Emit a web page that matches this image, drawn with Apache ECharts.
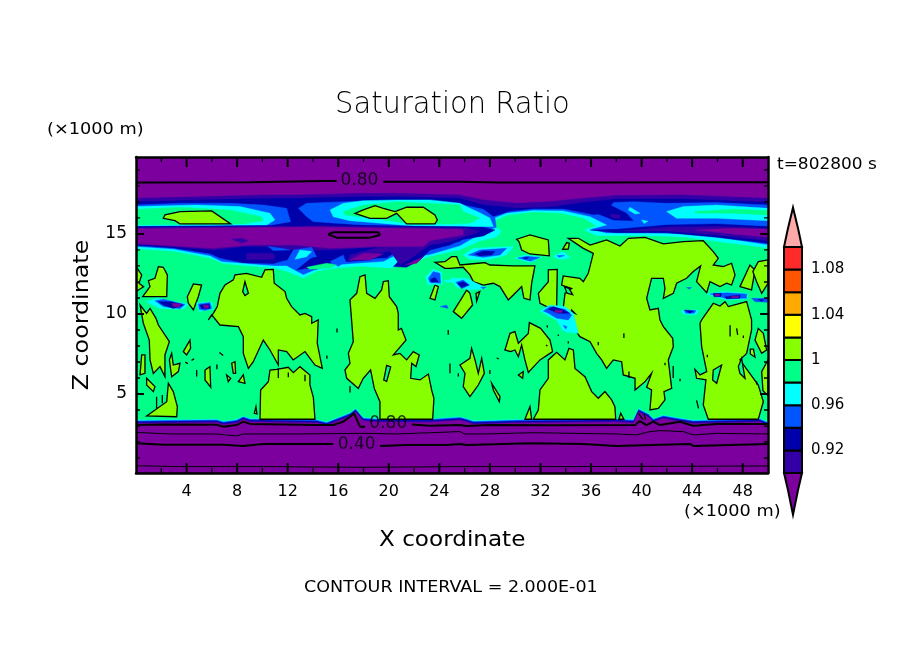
<!DOCTYPE html>
<html>
<head>
<meta charset="utf-8">
<script src="https://cdn.jsdelivr.net/npm/echarts@6/dist/echarts.min.js"></script>
<style>html,body{margin:0;background:#fff}#chart{width:904px;height:654px}</style>
</head>
<body>
<div id="chart"></div>
<script>
'use strict'

// all outlines are [x km, z km, x km, z km, ...]
const xTicksMajor = [4, 8, 12, 16, 20, 24, 28, 32, 36, 40, 44, 48];
const xTicksMinor = [2, 6, 10, 14, 18, 22, 26, 30, 34, 38, 42, 46];
const zTicksMajor = [5, 10, 15];
const zTicksMinor = [1, 2, 3, 4, 6, 7, 8, 9, 11, 12, 13, 14, 16, 17, 18, 19];

const barEdges = [0.90, 0.92, 0.94, 0.96, 0.98, 1.00, 1.02, 1.04, 1.06, 1.08, 1.10];
const barColors = ['#3300a8', '#0000aa', '#0055ff', '#00ffff', '#00ff88', '#88ff00', '#ffff00', '#ffaa00', '#ff5500', '#ff2a2a'];
const barLabels = [0.92, 0.96, 1, 1.04, 1.08];
const arrowHigh = [0, 1.10, 0.2, 1.115, 0.5, 1.135, 0.8, 1.115, 1, 1.10];
const arrowLow = [0, 0.90, 0.22, 0.885, 0.5, 0.863, 0.78, 0.885, 1, 0.90];

const PURPLE = '#7b009e', INDIGO = barColors[0], DARK = barColors[1], BLUE = barColors[2],
    CYAN = barColors[3], GREEN = barColors[4], LIME = barColors[5];

// lower edge of the moist layer, purple side
const floorEdge = [0,3.17, 2.16,3.19, 6.38,3.23, 6.91,3.1, 7.96,3.21, 8.49,3.42, 9.02,3.27, 14.29,3.21, 15.08,3.06, 16.14,3.38, 16.93,3.63, 17.38,3.9, 17.98,3.33, 19.04,3.27, 23.26,3.25, 25.63,3.38, 26.16,3.27, 26.69,3.13, 30.11,3.21, 38.03,3.27, 39.34,3.21, 39.74,3.9, 40.53,3.58, 40.93,3.27, 41.72,3.48, 42.77,3.33, 44.09,3.17, 49.36,3.27, 50,3.06];

const indigoTop = [0,17.23, 5.06,17.33, 10.07,17.44, 12.71,17.44, 17.98,17.54, 20.62,17.54, 25.6,17.44, 27.48,17.13, 30.11,16.92, 32.75,17.02, 35.39,17.23, 38.03,17.4, 43.3,17.44, 50,17.23];
const darkTop = [0,17.02, 5.06,17.13, 10.07,17.23, 12.71,17.23, 17.98,17.33, 20.62,17.33, 25.6,17.23, 27.48,16.81, 30.11,16.6, 32.75,16.67, 35.39,16.96, 38.03,17.19, 43.3,17.19, 50,16.98];
const blueTop = [0,14.27, 2.95,14.1, 5.85,13.75, 6.64,13.48, 8.49,13.17, 10.86,13.12, 11.92,13.37, 11.92,14.1, 12.58,14.21, 13.9,14.1, 14.29,13.58, 15.61,13.58, 16.4,13.69, 16.67,13.38, 19.83,13.48, 20.62,13.9, 21.54,13.96, 22.47,14.0, 25.63,14.52, 26.42,15.15, 28.0,15.42, 28.27,16.08, 29.59,16.4, 31.43,16.56, 33.8,16.56, 36.18,16.19, 37.23,16.29, 37.76,16.96, 39.34,17.02, 41.98,16.92, 45.94,16.96, 50,16.81];
const cyanTop = [0,14.2, 2.95,14.04, 5.85,13.62, 6.78,13.27, 8.49,13.15, 10.86,13.0, 11.92,13.0, 13.24,12.44, 14.29,12.79, 15.87,13.06, 17.72,13.17, 19.57,13.27, 20.62,13.69, 21.41,13.9, 21.7,13.5, 23.26,13.7, 25.63,14.25, 26.69,14.73, 27.48,15.15, 28.4,15.35, 28.0,15.88, 29.32,16.29, 31.43,16.46, 33.8,16.44, 35.92,16.08, 37.23,15.56, 35.92,15.29, 37.23,15.04, 40.66,15.04, 43.3,15.0, 45.94,14.79, 50,14.31];
const greenTop = [0,14.06, 2.95,13.9, 5.85,13.48, 6.91,13.13, 10.86,12.85, 11.92,12.65, 13.24,12.23, 14.29,12.65, 15.87,12.85, 17.72,12.96, 20.09,12.85, 21.41,13.06, 23.26,13.58, 25.63,14.0, 26.42,14.27, 27.08,14.52, 28.53,14.79, 28.93,15.15, 28.14,15.71, 29.32,16.15, 31.43,16.35, 33.54,16.29, 35.39,15.98, 36.36,15.52, 35.39,15.25, 36.44,14.88, 40.66,14.88, 43.3,14.79, 45.94,14.52, 50,14.1];

const blueJets = [
    [0,16.81, 3.48,16.92, 7.44,16.92, 10.07,16.81, 11.92,16.6, 12.23,15.77, 10.07,15.46, 0,15.46],
    [12.84,16.6, 13.5,16.92, 16.4,17.02, 19.3,17.08, 25.63,16.85, 27.48,16.55, 28.4,16.0, 28.5,15.4, 17.98,15.56, 14.03,15.77, 13.5,16.08]
];
const cyanJets = [
    [0,16.71, 4.8,16.81, 8.23,16.71, 10.6,16.29, 10.99,15.88, 10.34,15.56, 0,15.5],
    [15.35,16.5, 16.4,16.92, 17.98,17.08, 20.62,17.13, 23.26,17.13, 25.63,16.92, 26.42,16.6, 27.0,16.4, 28,16.0, 28.27,15.46, 25.63,15.42, 21.94,15.5, 16.93,15.83, 15.61,16.08],
    [41.98,16.4, 43.3,16.71, 45.94,16.81, 50,16.6, 50,15.83, 45.94,15.98, 42.77,15.98]
];
const greenJets = [
    [0,16.54, 3.48,16.67, 7.44,16.5, 9.94,16.08, 10.07,15.83, 8.49,15.63, 0,15.56],
    [16.4,16.4, 17.98,16.81, 20.62,17.02, 23.26,16.92, 25.63,16.81, 25.9,16.4, 27.2,16.0, 26.42,15.67, 24.84,15.63, 21.94,15.63, 18.51,15.98, 16.53,16.19],
    [44.22,16.4, 47.25,16.54, 50,16.46, 50,16.19, 47.25,16.29, 44.22,16.29]
];

// the dry layer near 15 km
const bandDark = [
    [0,15.46, 14.29,15.54, 25.63,15.46, 27.48,15.42, 28.4,15.25, 27.48,14.88, 25.63,14.63, 24.84,14.31, 23.26,14.0, 22.47,13.38, 21.41,12.92, 20.36,12.96, 21.28,13.69, 20.36,13.9, 18.51,13.38, 16.67,13.27, 16.4,13.58, 15.08,13.06, 12.71,12.75, 13.5,13.27, 14.03,13.58, 12.84,13.58, 11.92,13.37, 8.62,13.27, 7.44,13.58, 5.85,13.9, 2.95,14.17, 0,14.33],
    [35.92,15.25, 38.03,15.29, 41.98,15.56, 45.94,15.63, 50,15.46, 50,14.42, 45.94,14.79, 41.98,15.08, 38.03,15.08]
];
const bandIndigo = [
    [0,15.4, 14.29,15.5, 25.63,15.37, 26.16,15.35, 27.21,15.15, 25.89,14.79, 24.84,14.52, 23.26,14.31, 21.94,13.58, 20.89,13.06, 20.09,13.94, 17.98,13.58, 16.8,13.27, 16.93,13.69, 19.43,14.21, 15.35,14.0, 12.18,14.0, 10.07,14.21, 8.49,14.21, 6.12,14.0, 2.95,14.21, 0,14.35],
    [38.55,15.19, 41.98,15.42, 45.94,15.46, 50,15.35, 50,14.58, 45.94,14.94, 41.98,15.19],
    [8.75,13.79, 10.86,13.79, 11.0,13.4, 8.75,13.4]
];
const bandPurple = [
    [0,15.33, 14.29,15.44, 25.63,15.29, 25.89,15.25, 25.89,14.94, 24.84,14.79, 23.26,14.58, 22.73,14.21, 19.3,14.21, 15.35,14.1, 12.71,14.31, 9.02,14.31, 6.12,14.1, 2.95,14.25, 0,14.4],
    [44.35,15.25, 47.25,15.35, 50,15.29, 50,14.79, 47.25,15.0],
    [16.93,13.38, 17.98,13.79, 19.57,13.75, 18.51,13.38],
    [21.28,13.06, 22.73,13.58, 22.2,13.17]
];
const streakIndigo = [
    [7.57,14.67, 8.36,14.73, 8.89,14.58, 8.36,14.42],
    [13.24,12.85, 15.08,13.06, 14.29,12.79]
];
const streakBlue = [
    [10.47,14.21, 11.52,14.1, 12.18,14.0, 10.86,13.96],
    [11.92,13.27, 12.45,14.0, 13.9,14.17, 14.29,13.58, 13.5,13.48, 12.71,12.96],
    [15.35,13.27, 16.4,13.69, 16.53,13.27, 16.0,12.96]
];
const streakCyan = [[12.58,13.42, 12.97,14.0, 13.9,13.9, 13.5,13.58]];
const streakGreen = [[13.5,12.92, 15.08,13.17, 15.87,13.06, 15.35,12.85, 13.76,12.79]];

// saturated cloud, ratio above 1
const limeClouds = [
    [2.16,15.98, 2.29,16.19, 3.48,16.40, 5.99,16.44, 7.49,15.63, 3.48,15.63, 3.08,15.83],
    [17.33,16.29, 17.98,16.5, 18.91,16.77, 19.57,16.6, 20.49,16.4, 21.41,16.67, 22.73,16.67, 23.65,16.19, 23.84,15.87, 23.65,15.63, 21.41,15.63, 20.62,16.29, 19.83,15.98, 18.51,15.98],
    [0,12.96, 0.45,12.44, 0.24,11.92, 0.6,11.7, 0,11.4],
    [1.77,12.96, 2.16,12.92, 2.48,12.44, 2.43,11.08, 0.53,11.08, 1.11,11.71, 0.98,12.08, 1.5,12.23],
    [4.06,11.08, 4.54,11.88, 5.19,11.81, 4.93,11.08, 4.54,10.25, 4.14,10.67],
    [5.72,9.63, 6.12,10.04, 6.43,10.46, 6.64,11.29, 7.04,11.81, 7.70,12.13, 7.83,12.44, 8.75,12.54, 9.94,12.29, 10.2,12.75, 10.86,12.79, 10.94,11.92, 11.79,11.4, 11.92,10.98, 12.31,10.46, 12.97,9.94, 13.37,10.04, 13.9,9.83, 13.9,9.42, 14.42,9.63, 14.34,8.17, 14.74,6.6, 14.16,6.81, 13.37,7.65, 12.44,7.13, 11.92,7.65, 11.26,7.75, 11.26,6.81, 10.6,7.75, 10.07,8.37, 9.28,7.02, 8.89,6.6, 8.49,7.54, 8.49,8.58, 8.1,9.21, 6.64,9.31, 5.99,9.94],
    [0.32,10.56, 0.84,10.04, 1.11,10.35, 1.58,9.73, 1.77,9.31, 2.64,8.27, 2.29,7.44, 2.29,6.08, 1.9,6.71, 1.37,6.29, 1.11,7.13, 1.05,8.37, 0.58,9.42],
    [0.84,3.63, 2.43,4.52, 2.56,5.67, 2.95,5.15, 3.27,4.21, 3.22,3.58],
    [0.32,6.19, 0.45,7.44, 0.71,7.44, 0.71,6.29],
    [0.84,5.98, 1.5,5.46, 1.37,5.15, 0.84,5.56],
    [2.64,7.13, 2.82,7.54, 2.95,6.81, 3.48,6.92, 3.35,6.4, 2.82,6.08],
    [3.74,7.65, 4.27,8.37, 4.32,7.85, 4.01,7.44],
    [5.46,6.5, 5.85,6.71, 5.91,5.42, 5.46,5.88],
    [7.57,6.92, 7.83,7.02, 7.88,6.29, 7.7,6.29],
    [8.1,5.77, 8.49,6.19, 8.62,5.67],
    [7.17,6.19, 7.49,5.98, 7.3,5.77],
    [9.36,3.79, 9.49,4.21, 9.57,3.75],
    [9.81,3.42, 9.86,5.25, 10.47,5.77, 10.6,6.5, 11.13,6.54, 12.05,6.67, 12.45,6.33, 12.97,6.71, 13.76,6.19, 13.76,5.56, 14.03,4.79, 14.16,3.42],
    [16.93,10.88, 17.46,11.29, 17.72,12.33, 18.12,12.44, 18.25,11.29, 18.91,10.98, 19.43,11.5, 19.57,12.02, 19.96,12.08, 20.04,11.08, 20.62,10.46, 20.75,10.04, 20.75,9.0, 21.0,9.1, 21.36,8.37, 20.36,7.44, 20.88,7.54, 21.41,7.13, 21.94,7.65, 22.41,7.44, 22.15,6.71, 21.81,6.92, 21.73,5.98, 22.47,5.88, 23.13,6.25, 23.39,5.25, 23.57,4.73, 23.47,3.42, 19.3,3.42, 19.3,4.52, 18.85,5.35, 18.56,6.5, 17.98,5.98, 17.59,5.35, 16.67,5.98, 16.53,6.5, 16.93,6.92, 16.8,7.54, 17.19,8.27],
    [23.26,10.98, 23.65,11.81, 23.92,11.71, 23.65,10.88],
    [23.65,13.23, 24.44,13.27, 24.97,13.58, 25.37,13.58, 25.63,13.06, 27.08,13.17, 27.61,13.21, 28.0,13.06, 29.85,13.0, 31.56,13.0, 31.3,11.92, 31.17,10.88, 30.69,10.98, 30.51,11.71, 29.85,11.19, 29.45,10.88, 28.8,11.71, 28.27,11.92, 27.48,11.81, 26.69,12.02, 26.42,12.44, 25.89,12.92, 24.84,12.85, 24.44,12.85],
    [30.11,14.67, 31.17,14.94, 32.62,14.63, 32.7,13.63, 31.17,13.75, 30.51,14.0, 30.3,14.52],
    [33.75,14.04, 34.07,14.46, 34.28,14.42, 34.2,14.06],
    [34.2,14.73, 35.0,14.73, 35.92,14.31, 37.23,14.63, 38.29,14.25, 38.95,14.73, 40.27,14.79, 41.72,14.38, 43.3,14.52, 44.88,14.58, 45.67,13.9, 46.07,13.48, 45.67,13.06, 46.46,12.96, 47.12,13.17, 47.39,12.44, 47.12,11.81, 46.73,11.92, 46.2,11.71, 45.41,12.02, 45.15,11.33, 44.35,12.02, 44.67,13.0, 44.09,12.65, 43.56,12.23, 42.77,11.92, 42.51,11.29, 41.72,10.98, 41.85,11.6, 41.72,12.23, 40.79,12.23, 40.4,10.98, 40.66,10.25, 41.32,10.35, 41.45,9.63, 41.72,9.21, 42.46,8.48, 42.51,7.96, 42.11,7.13, 42.38,5.35, 41.77,5.15, 41.85,4.63, 41.32,4.1, 40.66,4.0, 40.79,5.25, 40.4,5.42, 40.79,6.29, 40.27,5.77, 39.48,5.25, 39.48,5.98, 38.55,6.19, 38.42,7.02, 37.76,7.13, 37.23,6.6, 36.84,7.13, 36.44,7.54, 35.92,8.27, 35.12,8.58, 34.73,9.0, 34.47,9.42, 34.47,10.25, 34.73,10.04, 33.8,10.35, 33.94,11.29, 34.47,11.6, 33.67,11.81, 33.8,12.38, 35.12,12.23, 35.39,12.02, 35.78,12.54, 36.18,13.79, 35.39,14.1],
    [31.83,11.29, 32.62,12.02, 32.62,12.75, 33.33,12.79, 33.28,10.46, 32.49,10.46, 31.96,10.67],
    [25.76,10.98, 26.16,11.5, 26.42,11.29, 26.63,10.56, 25.76,9.73, 25.1,10.15],
    [26.9,11.29, 27.2,11.4, 26.95,10.8],
    [44.75,9.63, 45.67,10.67, 46.2,10.5, 46.6,10.77, 46.86,10.46, 48.31,10.77, 48.7,9.63, 48.7,9.0, 48.31,7.54, 47.78,7.13, 49.23,5.56, 49.63,4.52, 49.23,3.42, 45.28,3.42, 44.88,4.31, 45.09,5.88, 44.35,5.98, 44.22,6.54, 44.62,6.19, 45.15,6.4, 44.75,7.96, 44.62,9.42],
    [47.78,11.71, 48.57,13.06, 48.97,12.75, 48.7,11.5],
    [48.8,12.65, 49.23,13.27, 50,13.38, 50,11.92, 49.5,11.29, 49.1,12.02],
    [49.23,9.1, 49.63,8.79, 49.89,7.75, 49.5,7.54, 48.97,8.37],
    [48.6,7.8, 48.85,7.8, 48.97,7.3, 48.6,7.5],
    [50,7.13, 50,4.9, 49.6,5.2, 49.5,6.4],
    [25.63,6.81, 26.42,7.23, 26.55,7.85, 26.82,7.13, 27.08,6.29, 27.35,7.23, 27.56,6.29, 27.08,5.56, 26.42,4.83, 25.89,5.46, 26.03,6.29],
    [28.14,5.67, 28.8,4.83, 28.74,4.52, 28.27,5.25],
    [29.19,7.75, 29.59,8.79, 29.98,8.9, 30.25,8.17, 31.04,8.79, 31.12,9.46, 32.01,9.1, 32.75,8.37, 32.96,7.65, 31.96,7.13, 31.04,6.35, 30.77,7.13, 30.51,8.06, 30.25,7.33, 29.98,7.75, 29.64,7.65],
    [30.25,6.19, 30.64,6.4, 30.59,5.98],
    [31.43,3.42, 31.83,4.0, 31.96,5.25, 32.62,5.98, 32.62,7.13, 33.28,7.6, 33.94,7.13, 34.25,7.85, 34.6,7.75, 34.73,6.6, 35.52,6.08, 36.05,5.15, 36.57,4.73, 37.1,5.15, 37.63,4.63, 37.89,4.21, 37.95,3.42],
    [30.77,3.42, 31.17,4.21, 31.3,3.42],
    [38.2,3.42, 38.35,3.8, 38.6,3.42]
];
const limeHoles = [
    [8.62,12.02, 8.89,11.29, 8.62,11.15, 8.44,11.4],
    [19.6,5.87, 19.83,6.79, 20.15,6.69, 19.83,5.79],
    [33.9,11.7, 34.25,11.6, 34.55,11.2, 34.1,11.3],
    [45.67,6.5, 46.33,6.81, 45.94,5.67, 45.62,5.88],
    [47.65,6.71, 47.91,7.23, 48.18,5.98, 47.78,6.29]
];
// tiny closed contours, too small to fill
const limeSpecks = [
    [15.9,9.1, 15.9,8.85], [24.7,9.0, 24.7,8.7], [16.93,5.5, 16.93,5.1], [15.1,7.4, 15.1,7.2], [11.26,6.6, 11.26,6.0],
    [4.8,6.5, 4.8,6.1], [6.4,6.85, 6.4,6.55], [12.05,6.35, 12.05,6.05], [13.37,6.2, 13.37,5.8], [1.63,4.83, 1.63,4.1],
    [2.08,4.94, 2.08,4.42], [3.9,7.0, 4.1,6.9], [4.4,7.1, 4.6,7.2], [6.6,7.6, 6.9,7.4], [24.84,6.9, 24.84,6.3],
    [32.54,9.3, 32.54,9.15], [33.41,8.72, 33.41,8.62], [33.8,9.0, 33.9,8.9], [36.57,8.25, 36.57,8.05], [38.6,8.8, 38.6,8.5],
    [34.2,8.3, 34.2,8.15], [32.44,8.05, 32.55,8.0], [28.53,7.25, 28.7,7.2], [28.0,6.5, 28.0,6.25], [25.5,6.3, 25.5,6.1],
    [42.5,6.75, 42.5,6.0], [39.0,6.4, 39.0,6.0], [43.04,5.95, 43.04,5.8], [41.85,6.95, 41.85,6.8], [44.35,4.6, 44.5,4.1],
    [47.0,9.3, 47.0,8.6], [47.52,9.1, 47.6,8.7], [48.05,8.65, 48.05,8.5], [45.2,7.45, 45.2,7.3], [49.1,5.8, 49.1,5.6],
    [39.75,3.8, 40.1,3.4], [40.2,3.75, 40.3,3.4]
];

// damp and dry pockets inside the cloud layer, outermost colour first
const pocketCyan = [
    [0.84,10.77, 1.63,10.98, 4.14,10.63, 3.74,10.29, 1.9,10.35],
    [4.8,10.7, 6.0,10.75, 6.1,10.3, 5.0,10.15],
    [22.9,12.3, 23.5,12.8, 24.2,12.6, 24.2,11.85, 23.1,11.85],
    [24.45,12.13, 25.5,12.1, 25.5,11.98, 24.45,12.0],
    [24.84,12.23, 26.16,12.23, 27.21,11.81, 27.74,11.6, 26.42,11.5, 25.37,11.67],
    [25.89,13.69, 26.69,14.1, 29.85,14.21, 29.32,13.69, 27.74,13.38, 26.42,13.42],
    [29.98,13.48, 30.77,13.69, 32.09,13.54, 31.17,13.21],
    [33.0,13.6, 33.8,13.9, 34.33,13.5, 33.5,13.4],
    [31.96,10.21, 32.75,10.56, 33.94,10.46, 34.6,10.04, 35.0,8.79, 33.8,8.9, 33.28,9.63, 32.49,9.94],
    [43.17,10.21, 44.49,10.25, 44.35,9.94, 43.3,9.98],
    [45.15,11.25, 46.46,11.4, 48.31,11.29, 48.44,10.94, 46.73,10.88],
    [39.08,16.67, 39.87,16.29, 39.48,16.25, 38.95,16.5],
    [40.0,15.88, 40.5,15.79, 40.2,15.65]
];
const pocketBlue = [
    [1.5,10.83, 2.16,10.92, 3.88,10.6, 3.48,10.33, 2.16,10.46],
    [4.93,10.63, 5.85,10.71, 5.99,10.35, 5.46,10.21, 5.01,10.29],
    [23.13,12.23, 23.52,12.65, 24.05,12.54, 24.1,11.92, 23.26,11.96],
    [24.05,10.46, 24.58,10.56, 24.7,10.35],
    [26.29,13.69, 27.21,14.0, 29.32,14.1, 28.8,13.69, 27.48,13.54],
    [30.2,13.5, 30.9,13.6, 31.95,13.53, 31.2,13.3],
    [33.3,13.65, 33.9,13.65, 33.5,13.55],
    [25.3,11.98, 25.89,12.12, 26.4,11.81, 25.76,11.58],
    [27.27,11.67, 27.69,11.67, 27.48,11.56],
    [32.22,10.19, 32.75,10.46, 33.94,10.29, 34.47,9.94, 34.2,9.63, 33.28,9.73, 32.62,10.04],
    [33.8,9.3, 34.1,9.2, 34.0,9.05],
    [43.35,10.25, 44.3,10.21, 44.17,10.04, 43.5,10.04],
    [45.41,11.25, 46.73,11.33, 48.31,11.25, 48.31,10.98, 46.6,10.98],
    [48.7,10.98, 50,10.98, 50,10.73, 48.97,10.77],
    [43.56,11.65, 43.96,11.65, 43.77,11.56]
];
const pocketDark = [
    [1.77,10.77, 2.82,10.77, 3.74,10.56, 2.95,10.35, 2.16,10.56],
    [5.06,10.56, 5.8,10.63, 5.85,10.35, 5.19,10.33],
    [23.26,12.13, 23.65,12.29, 23.92,12.02, 23.39,11.98],
    [26.82,13.75, 27.48,13.94, 28.4,13.9, 28.14,13.69, 27.21,13.63],
    [30.6,13.52, 31.1,13.55, 30.85,13.42],
    [25.42,11.92, 25.89,12.02, 26.29,11.81, 25.76,11.65],
    [32.62,10.29, 33.01,10.46, 33.8,10.25, 34.33,10.04, 33.41,10.04],
    [43.43,10.23, 44.09,10.19, 43.83,10.04],
    [45.67,11.29, 46.33,11.29, 46.25,11.08, 45.72,11.08],
    [46.6,11.08, 47.78,11.19, 47.78,10.98, 46.73,10.94],
    [49.2,10.9, 49.7,10.9, 49.5,10.8],
    [35.39,16.6, 37.5,16.81, 38.8,16.29, 39.34,15.83, 37.76,15.88, 36.44,16.29]
];
const pocketIndigo = [[37.5,16.25, 38.29,16.19, 38.29,15.98, 37.63,16.02]];
const pocketPurple = [
    [2.82,10.67, 3.61,10.63, 3.35,10.42, 2.95,10.46],
    [5.33,10.56, 5.75,10.56, 5.72,10.35, 5.38,10.38],
    [33.15,10.25, 33.75,10.21, 33.67,10.08, 33.15,10.1],
    [45.8,11.25, 46.2,11.25, 46.15,11.12, 45.85,11.12],
    [47.1,11.1, 47.7,11.12, 47.6,11.0, 47.15,11.0]
];

// contour lines, split where a label sits in the gap
const contours = [
    {width: 2, parts: [[0,18.21, 9.02,18.23, 14.82,18.31, 15.87,18.31], [19.57,18.27, 25.63,18.27, 28.8,18.21, 36.44,18.21, 43.83,18.23, 50,18.23]]},
    {width: 2, parts: [[0,3.06, 2.16,3.1, 6.38,3.08, 6.91,2.96, 7.96,3.06, 8.49,3.27, 9.02,3.13, 14.29,3.06, 15.61,3.06, 16.4,3.27, 16.93,3.58, 17.25,3.79, 17.72,2.96, 18.12,2.96], [21.81,3.1, 23.26,3.02, 25.63,3.06, 26.16,3.0, 28,3.06, 32.75,3.04, 39.48,3.06, 39.87,3.31, 40.4,3.06, 40.93,3.27, 41.45,3.06, 43.04,3.27, 44.09,3.02, 45.94,3.13, 50,3.13]]},
    {width: 1, parts: [[0,2.6, 2.69,2.5, 6.38,2.5, 7.96,2.38, 8.49,2.5, 12.71,2.5, 17.98,2.54, 20.62,2.5, 25.63,2.65, 26.0,2.5, 27.48,2.5, 31.43,2.58, 38.03,2.5, 39.6,2.44, 40.66,2.65, 41.45,2.71, 43.3,2.65, 44.09,2.44, 45.94,2.54, 50,2.5]]},
    {width: 2, parts: [[0,1.92, 2.16,1.83, 6.91,1.83, 8.49,1.75, 10.07,1.88, 15.61,1.88], [19.3,1.75, 21.41,1.81, 24.58,1.81, 25.63,1.88, 26.16,1.81, 31.17,1.92, 35.39,1.88, 38.03,1.75, 43.83,1.88, 44.09,1.75, 50,1.88]]},
    {width: 1, parts: [[0,0.52, 3.48,0.46, 10.07,0.46, 17.98,0.42, 25.63,0.46, 32.75,0.46, 50,0.5]]},
    {width: 2, parts: [[15.2,14.98, 15.6,15.1, 19.17,15.1, 19.3,14.94, 18.51,14.77, 15.87,14.77, 15.2,14.98]]}
];
const contourLabels = [[17.67, 18.31, '0.80'], [19.96, 3.17, '0.80'], [17.46, 1.81, '0.40']];

const X_MIN = 0, X_MAX = 50, Z_MIN = 0.0625, Z_MAX = 19.81;

function pairs(flat)
{
    const out = [];
    for (let i = 0; i < flat.length; i += 2) out.push([flat[i], flat[i + 1]]);
    return out;
}

// moist layer: top edge across the plot, then floor back, lifted a little per colour
function column(top, lift)
{
    const floor = pairs(floorEdge).map(p => [p[0], p[1] + lift]).reverse();
    return pairs(top).concat(floor).flat();
}

// inward tick segments on all four sides, lengths in axis units
function tickSegments(xValues, zValues, xReach, zReach)
{
    const segs = [];
    xValues.forEach(v => segs.push([v, Z_MIN, v, Z_MIN + zReach], [v, Z_MAX, v, Z_MAX - zReach]));
    zValues.forEach(v => segs.push([X_MIN, v, X_MIN + xReach, v], [X_MAX, v, X_MAX - xReach, v]));
    return segs;
}

function polygons(name, polys, fill, stroke, width)
{
    const shapes = polys.map(pairs);
    return {
        name: name,
        type: 'custom',
        coordinateSystem: 'cartesian2d',
        xAxisIndex: 0,
        yAxisIndex: 0,
        clip: true,
        silent: true,
        data: shapes.map((s, i) => [s[0][0], s[0][1], i]),
        renderItem: (params, api) => ({
            type: 'polygon',
            shape: {points: shapes[params.dataIndex].map(p => api.coord(p))},
            style: {fill: fill, stroke: stroke || fill, lineWidth: stroke ? width : 0.4}
        })
    };
}

function barPolygons(name, polys, fills)
{
    const shapes = polys.map(pairs);
    return {
        name: name,
        type: 'custom',
        coordinateSystem: 'cartesian2d',
        xAxisIndex: 2,
        yAxisIndex: 2,
        clip: false,
        silent: true,
        data: shapes.map((s, i) => [s[0][0], s[0][1], i]),
        renderItem: (params, api) => ({
            type: 'polygon',
            shape: {points: shapes[params.dataIndex].map(p => api.coord(p))},
            style: {fill: fills[params.dataIndex], stroke: '#000', lineWidth: 2}
        })
    };
}

function frameAxis(position, labels)
{
    const horizontal = position == 'top' || position == 'bottom';
    return {
        type: 'value',
        gridIndex: 0,
        position: position,
        z: 7,
        min: horizontal ? X_MIN : Z_MIN,
        max: horizontal ? X_MAX : Z_MAX,
        splitLine: {show: false},
        axisLine: {show: true, onZero: false, lineStyle: {color: '#000', width: 2.5}},
        axisTick: {show: false},
        axisLabel: {show: !!labels, customValues: labels, margin: horizontal ? 11 : 9, color: '#000', fontFamily: 'DejaVu Sans', fontSize: horizontal ? 16 : 17}
    };
}

function text(str, x, y, size, opts)
{
    return Object.assign({
        type: 'text',
        x: x,
        y: y,
        silent: true,
        style: {text: str, fill: '#000', font: size + 'px "DejaVu Sans"', textAlign: 'left', textVerticalAlign: 'middle'}
    }, opts);
}

const chart = echarts.init(document.getElementById('chart'), null, {renderer: 'canvas'});

const series = [
    polygons('indigo layer', [column(indigoTop, 0)], INDIGO),
    polygons('dark layer', [column(darkTop, 0.06)], DARK),
    polygons('blue layer', [column(blueTop, 0.12)], BLUE),
    polygons('cyan layer', [column(cyanTop, 0.18)], CYAN),
    polygons('green layer', [column(greenTop, 0.22)], GREEN),
    polygons('blue jets', blueJets, BLUE),
    polygons('cyan jets', cyanJets, CYAN),
    polygons('green jets', greenJets, GREEN),
    polygons('band dark', bandDark, DARK),
    polygons('band indigo', bandIndigo, INDIGO),
    polygons('band purple', bandPurple, PURPLE),
    polygons('streak indigo', streakIndigo, INDIGO),
    polygons('streak blue', streakBlue, BLUE),
    polygons('streak cyan', streakCyan, CYAN),
    polygons('streak green', streakGreen, GREEN),
    polygons('cloud', limeClouds, LIME, '#000', 1.3),
    polygons('cloud holes', limeHoles, GREEN, '#000', 1.3),
    polygons('specks', limeSpecks, '#000', '#000', 1.3),
    polygons('pocket cyan', pocketCyan, CYAN),
    polygons('pocket blue', pocketBlue, BLUE),
    polygons('pocket dark', pocketDark, DARK),
    polygons('pocket indigo', pocketIndigo, INDIGO),
    polygons('pocket purple', pocketPurple, PURPLE),
    polygons('major ticks', tickSegments(xTicksMajor, zTicksMajor, 0.63, 0.62), '#000', '#000', 2),
    polygons('minor ticks', tickSegments(xTicksMinor, zTicksMinor, 0.32, 0.31), '#000', '#000', 1.3)
];

contours.forEach(c => c.parts.forEach(part => {
    series.push({
        type: 'line',
        xAxisIndex: 0,
        yAxisIndex: 0,
        data: pairs(part),
        showSymbol: false,
        silent: true,
        lineStyle: {color: '#000', width: c.width}
    });
}));

series.push({
    type: 'scatter',
    xAxisIndex: 0,
    yAxisIndex: 0,
    symbolSize: 0,
    silent: true,
    data: contourLabels,
    label: {show: true, position: 'inside', formatter: p => p.value[2], color: '#000', fontFamily: 'DejaVu Sans', fontSize: 17}
});

// colour bar
const barCells = barColors.map((c, i) => [0, barEdges[i], 1, barEdges[i], 1, barEdges[i + 1], 0, barEdges[i + 1]]);
series.push(barPolygons('bar cells', barCells, barColors));
series.push(barPolygons('bar arrows', [arrowHigh, arrowLow], ['#ffaaaa', PURPLE]));

chart.setOption({
    animation: false,
    backgroundColor: '#fff',
    grid: [
        {left: 136, top: 157, width: 632, height: 316, show: true, backgroundColor: PURPLE, borderWidth: 0},
        {left: 784, top: 247, width: 18, height: 226}
    ],
    xAxis: [
        frameAxis('bottom', xTicksMajor),
        frameAxis('top'),
        {type: 'value', gridIndex: 1, min: 0, max: 1, show: false}
    ],
    yAxis: [
        frameAxis('left', zTicksMajor),
        frameAxis('right'),
        {
            type: 'value', gridIndex: 1, position: 'right', min: 0.9, max: 1.1,
            splitLine: {show: false}, axisLine: {show: false}, axisTick: {show: false},
            axisLabel: {customValues: barLabels, margin: 9, color: '#000', fontFamily: 'DejaVu Sans', fontSize: 15, formatter: v => String(v)}
        }
    ],
    series: series,
    graphic: [
        text('Saturation Ratio', 335, 105, 31, {scaleX: 0.935, style: {text: 'Saturation Ratio', fill: '#000', font: '200 31px "DejaVu Sans"', textAlign: 'left', textVerticalAlign: 'middle'}}),
        text('(\u00d71000 m)', 47, 130, 15, {scaleX: 1.18}),
        text('(\u00d71000 m)', 684, 512, 15, {scaleX: 1.18}),
        text('t=802800 s', 777, 165, 15, {scaleX: 1.13}),
        text('X coordinate', 379, 540, 22, {scaleX: 1.05}),
        text('Z coordinate', 82, 315, 22, {rotation: Math.PI / 2, scaleX: 1.08, style: {text: 'Z coordinate', fill: '#000', font: '22px "DejaVu Sans"', textAlign: 'center', textVerticalAlign: 'middle'}}),
        text('CONTOUR INTERVAL = 2.000E-01', 304, 588, 16, {scaleX: 1.095})
    ]
});
</script>
</body>
</html>
